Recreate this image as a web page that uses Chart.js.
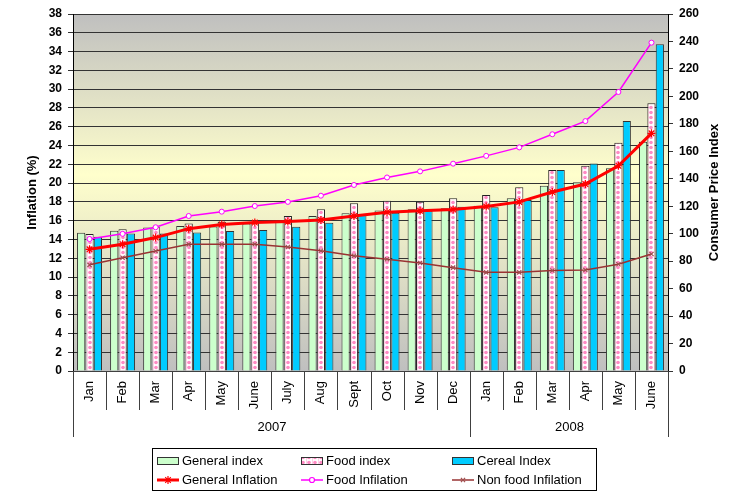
<!DOCTYPE html>
<html>
<head>
<meta charset="utf-8">
<script src="https://cdn.jsdelivr.net/npm/chart.js"></script>
<style>
    body { margin: 0; background: #fff; }
    #wrap { width: 732px; height: 492px; }
</style>
</head>
<body>
<div id="wrap"><canvas id="chartCPI" width="732" height="492"></canvas></div>
<script>
// ====== DADOS ======
const months = ['Jan', 'Feb', 'Mar', 'Apr', 'May', 'June', 'July', 'Aug', 'Sept', 'Oct', 'Nov', 'Dec',
                'Jan', 'Feb', 'Mar', 'Apr', 'May', 'June'];
const years = ['2007', '2008'];
const monthsPerYear = [12, 6];

const generalIndex = [100.7, 102.2, 104.6, 105.6, 105.3, 107.5, 110.0, 112.9, 114.8, 116.8, 117.8, 118.5,
                      120.4, 125.8, 135.0, 137.4, 147.6, 167.0];
const foodIndex = [99.8, 103.2, 105.1, 107.5, 108.7, 108.7, 112.9, 117.8, 122.1, 124.0, 123.3, 125.8,
                   128.2, 133.8, 146.4, 149.5, 166.3, 195.0];
const cerealIndex = [97.8, 100.2, 100.2, 100.9, 102.0, 102.7, 105.1, 108.0, 113.6, 115.3, 116.8, 119.7,
                     119.2, 124.5, 146.4, 151.2, 182.0, 238.0];

const generalInflation = [12.95, 13.5, 14.2, 15.15, 15.6, 15.8, 15.9, 16.07, 16.5, 16.9, 17.06, 17.2,
                          17.5, 18.0, 19.05, 19.9, 21.85, 25.3];
const foodInflation = [14.05, 14.6, 15.3, 16.5, 16.96, 17.56, 18.0, 18.66, 19.8, 20.6, 21.25, 22.07,
                       22.9, 23.8, 25.2, 26.6, 29.7, 34.95];
const nonFoodInflation = [11.3, 12.06, 12.77, 13.48, 13.48, 13.5, 13.2, 12.8, 12.27, 11.9, 11.5, 11.0,
                          10.5, 10.5, 10.7, 10.75, 11.36, 12.45];

const FONT = "'Liberation Sans', Arial, sans-serif";

// ====== PADRÃO PONTILHADO (Food index) ======
function dotTile() {
    const c = document.createElement('canvas');
    c.width = 6; c.height = 5;
    const g = c.getContext('2d');
    g.fillStyle = '#ffffff';
    g.fillRect(0, 0, 6, 5);
    g.fillStyle = '#ff8ac4';
    g.beginPath(); g.arc(3, 2.5, 1.8, 0, Math.PI * 2); g.fill();
    g.fillStyle = '#ffd0e6';
    g.fillRect(0, 0, 1, 5);
    return c;
}
const tile = dotTile();
const patterns = {};

// um padrão por barra, centrado na categoria
function foodPattern(c) {
    const ctx = c.chart.ctx;
    const key = c.dataIndex;
    if (!patterns[key]) patterns[key] = ctx.createPattern(tile, 'repeat');
    const xs = c.chart.scales.x;
    if (xs && c.dataIndex !== undefined && patterns[key].setTransform) {
        const cx = xs.getPixelForValue(c.dataIndex);
        patterns[key].setTransform(new DOMMatrix().translate(Math.round(cx) - 3, 0));
    }
    return patterns[key];
}

// ====== PLUGINS ======
const backgroundPlugin = {
    id: 'plotBackground',
    beforeDraw(chart) {
        const { ctx, chartArea: a } = chart;
        const grad = ctx.createLinearGradient(0, a.top, 0, a.bottom);
        grad.addColorStop(0, '#bfbfbf');
        grad.addColorStop(0.45, '#ffffcc');
        grad.addColorStop(1, '#bfbfbf');
        ctx.save();
        ctx.fillStyle = grad;
        ctx.fillRect(a.left, a.top, a.right - a.left, a.bottom - a.top);
        ctx.restore();
    }
};

function drawMarker(ctx, style, x, y, r, color, fill) {
    ctx.save();
    ctx.strokeStyle = color;
    ctx.lineWidth = 1.2;
    ctx.beginPath();
    if (style === 'circle') {
        ctx.fillStyle = fill;
        ctx.arc(x, y, r, 0, Math.PI * 2);
        ctx.fill();
        ctx.stroke();
    } else {
        ctx.moveTo(x - r * 0.7, y - r * 0.7); ctx.lineTo(x + r * 0.7, y + r * 0.7);
        ctx.moveTo(x + r * 0.7, y - r * 0.7); ctx.lineTo(x - r * 0.7, y + r * 0.7);
        if (style === 'star') {
            ctx.moveTo(x, y - r); ctx.lineTo(x, y + r);
        }
        ctx.stroke();
    }
    ctx.restore();
}

const axisExtrasPlugin = {
    id: 'axisExtras',
    afterDraw(chart) {
        const { ctx, chartArea: a } = chart;
        const x = chart.scales.x;
        const half = (x.getPixelForValue(1) - x.getPixelForValue(0)) / 2;
        const edge = i => Math.round(i < months.length ? x.getPixelForValue(i) - half
                                                       : x.getPixelForValue(months.length - 1) + half) + 0.5;
        ctx.save();
        ctx.strokeStyle = '#404040';
        ctx.lineWidth = 1;

        // separadores dos meses
        for (let i = 0; i <= months.length; i++) {
            ctx.beginPath();
            ctx.moveTo(edge(i), a.bottom);
            ctx.lineTo(edge(i), a.bottom + 39);
            ctx.stroke();
        }

        // grupos de anos
        let start = 0;
        ctx.fillStyle = '#000';
        ctx.font = '13px ' + FONT;
        ctx.textAlign = 'center';
        ctx.textBaseline = 'middle';
        ctx.beginPath();
        ctx.moveTo(edge(0), a.bottom); ctx.lineTo(edge(0), a.bottom + 66);
        ctx.stroke();
        years.forEach((yr, k) => {
            const end = start + monthsPerYear[k];
            ctx.beginPath();
            ctx.moveTo(edge(end), a.bottom); ctx.lineTo(edge(end), a.bottom + 66);
            ctx.stroke();
            ctx.fillText(yr, (edge(start) + edge(end)) / 2, a.bottom + 56);
            start = end;
        });

        // título do eixo direito (lido de baixo para cima)
        ctx.save();
        ctx.translate(714, (a.top + a.bottom) / 2);
        ctx.rotate(-Math.PI / 2);
        ctx.font = 'bold 13px ' + FONT;
        ctx.fillText('Consumer Price Index', 0, 0);
        ctx.restore();
        ctx.restore();
    }
};

const legendPlugin = {
    id: 'boxLegend',
    afterDraw(chart) {
        const { ctx } = chart;
        const ds = chart.data.datasets;
        const box = { l: 152.5, t: 448.5, r: 596.5, b: 490.5 };
        const cols = [157, 301, 452];
        const rows = [461, 480];
        ctx.save();
        ctx.fillStyle = '#fff';
        ctx.fillRect(box.l, box.t, box.r - box.l, box.b - box.t);
        ctx.strokeStyle = '#000';
        ctx.lineWidth = 1;
        ctx.strokeRect(box.l, box.t, box.r - box.l, box.b - box.t);
        ctx.font = '13px ' + FONT;
        ctx.textBaseline = 'middle';
        ctx.textAlign = 'left';
        ds.forEach((d, i) => {
            const cx = cols[i % 3];
            const cy = rows[Math.floor(i / 3)];
            if (d.type === 'bar') {
                ctx.fillStyle = typeof d.backgroundColor === 'function'
                    ? ctx.createPattern(tile, 'repeat') : d.backgroundColor;
                ctx.fillRect(cx, cy - 4, 22, 8);
                ctx.strokeStyle = '#333';
                ctx.lineWidth = 1;
                ctx.strokeRect(cx + 0.5, cy - 3.5, 21, 7);
            } else {
                ctx.strokeStyle = d.borderColor;
                ctx.lineWidth = d.borderWidth;
                ctx.beginPath();
                ctx.moveTo(cx, cy); ctx.lineTo(cx + 22, cy);
                ctx.stroke();
                drawMarker(ctx, d.pointStyle, cx + 11, cy, d.pointRadius, d.pointBorderColor, '#fff');
            }
            ctx.fillStyle = '#000';
            ctx.fillText(d.label, cx + 25, cy + 0.5);
        });
        ctx.restore();
    }
};

// ====== GRÁFICO ======
document.addEventListener('DOMContentLoaded', () => {
    const ctx = document.getElementById('chartCPI').getContext('2d');

    new Chart(ctx, {
        data: {
            labels: months,
            datasets: [
                { type: 'bar', label: 'General index', data: generalIndex, yAxisID: 'y1',
                  backgroundColor: '#ccffcc', borderColor: '#333', borderWidth: 1, order: 2 },
                { type: 'bar', label: 'Food index', data: foodIndex, yAxisID: 'y1',
                  backgroundColor: foodPattern, borderColor: '#222', borderWidth: 1, order: 2 },
                { type: 'bar', label: 'Cereal Index', data: cerealIndex, yAxisID: 'y1',
                  backgroundColor: '#00ccff', borderColor: '#333', borderWidth: 1, order: 2 },
                { type: 'line', label: 'General Inflation', data: generalInflation, yAxisID: 'y',
                  borderColor: '#ff0000', borderWidth: 3, pointStyle: 'star', pointRadius: 4,
                  pointBorderColor: '#ff0000', pointBorderWidth: 1.2, pointBackgroundColor: '#fff', order: 1 },
                { type: 'line', label: 'Food Infilation', data: foodInflation, yAxisID: 'y',
                  borderColor: '#ff00ff', borderWidth: 1.5, pointStyle: 'circle', pointRadius: 2.5,
                  pointBorderColor: '#ff00ff', pointBorderWidth: 1, pointBackgroundColor: '#fff', order: 1 },
                { type: 'line', label: 'Non food Infilation', data: nonFoodInflation, yAxisID: 'y',
                  borderColor: '#993333', borderWidth: 1.5, pointStyle: 'crossRot', pointRadius: 3,
                  pointBorderColor: '#a05050', pointBorderWidth: 1.2, order: 1 }
            ]
        },
        options: {
            responsive: false,
            animation: false,
            layout: { padding: { top: 14, left: 0, right: 0, bottom: 0 } },
            datasets: { bar: { categoryPercentage: 0.76, barPercentage: 0.98 } },
            plugins: { legend: { display: false }, tooltip: { enabled: false } },
            scales: {
                x: {
                    offset: true,
                    grid: { drawOnChartArea: false, drawTicks: false },
                    border: { color: '#404040' },
                    ticks: { minRotation: 90, maxRotation: 90, autoSkip: false, padding: 10,
                             color: '#000', font: { family: FONT, size: 13 } },
                    afterFit: s => { s.height = 121; }
                },
                y: {
                    position: 'left',
                    min: 0, max: 38,
                    ticks: { stepSize: 2, padding: 6, color: '#000', font: { family: FONT, size: 12, weight: 'bold' } },
                    grid: { color: '#333', tickLength: 5 },
                    border: { color: '#000' },
                    title: { display: true, text: 'Inflation (%)', color: '#000', padding: { top: 25, bottom: 0 },
                             font: { family: FONT, size: 13, weight: 'bold' } },
                    afterFit: s => { s.width = 73; }
                },
                y1: {
                    position: 'right',
                    min: 0, max: 260,
                    ticks: { stepSize: 20, padding: 6, color: '#000', font: { family: FONT, size: 12, weight: 'bold' } },
                    grid: { drawOnChartArea: false, color: '#333', tickLength: 5 },
                    border: { color: '#000' },
                    afterFit: s => { s.width = 64; }
                }
            }
        },
        plugins: [backgroundPlugin, axisExtrasPlugin, legendPlugin]
    });
});
</script>
</body>
</html>
